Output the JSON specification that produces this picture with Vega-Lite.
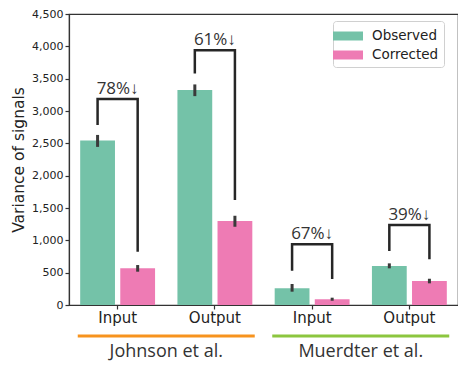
{
  "$schema": "https://vega.github.io/schema/vega-lite/v6.json",
  "width": 389,
  "height": 291,
  "autosize": {"type": "none"},
  "padding": {"left": 69, "top": 14, "right": 0, "bottom": 62},
  "background": "white",
  "config": {
    "view": {"stroke": "#333", "strokeWidth": 1.2},
    "axisX": {"labelFont": "DejaVu Sans", "labelFontSize": 15, "labelColor": "#222", "tickColor": "#333", "domainColor": "#333", "tickSize": 4, "labelPadding": 1, "labelAngle": 0, "grid": false, "domainWidth": 1.2, "tickWidth": 1.2},
    "axisY": {"labelFont": "DejaVu Sans", "labelFontSize": 11, "labelColor": "#222", "tickColor": "#333", "domainColor": "#333", "tickSize": 4, "labelPadding": 2, "grid": false, "domainWidth": 1.2, "tickWidth": 1.2, "titleFont": "DejaVu Sans", "titleFontSize": 15.5, "titleFontWeight": "normal", "titleColor": "#222", "titlePadding": 5}
  },
  "datasets": {
    "bars": [
      {"cat": "J Input", "series": "Observed", "value": 2545, "lo": 2445, "hi": 2630},
      {"cat": "J Input", "series": "Corrected", "value": 567, "lo": 515, "hi": 618},
      {"cat": "J Output", "series": "Observed", "value": 3323, "lo": 3230, "hi": 3411},
      {"cat": "J Output", "series": "Corrected", "value": 1298, "lo": 1210, "hi": 1380},
      {"cat": "M Input", "series": "Observed", "value": 258, "lo": 206, "hi": 325},
      {"cat": "M Input", "series": "Corrected", "value": 90, "lo": 66, "hi": 113},
      {"cat": "M Output", "series": "Observed", "value": 603, "lo": 567, "hi": 644},
      {"cat": "M Output", "series": "Corrected", "value": 371, "lo": 335, "hi": 406}
    ],
    "brackets": [
      {"bid": 1, "pt": 1, "cat": "J Input", "series": "Observed", "level": 2782},
      {"bid": 1, "pt": 2, "cat": "J Input", "series": "Observed", "level": 3184},
      {"bid": 1, "pt": 3, "cat": "J Input", "series": "Corrected", "level": 3184},
      {"bid": 1, "pt": 4, "cat": "J Input", "series": "Corrected", "level": 824},
      {"bid": 2, "pt": 1, "cat": "J Output", "series": "Observed", "level": 3581},
      {"bid": 2, "pt": 2, "cat": "J Output", "series": "Observed", "level": 3941},
      {"bid": 2, "pt": 3, "cat": "J Output", "series": "Corrected", "level": 3941},
      {"bid": 2, "pt": 4, "cat": "J Output", "series": "Corrected", "level": 1623},
      {"bid": 3, "pt": 1, "cat": "M Input", "series": "Observed", "level": 530},
      {"bid": 3, "pt": 2, "cat": "M Input", "series": "Observed", "level": 938},
      {"bid": 3, "pt": 3, "cat": "M Input", "series": "Corrected", "level": 938},
      {"bid": 3, "pt": 4, "cat": "M Input", "series": "Corrected", "level": 402},
      {"bid": 4, "pt": 1, "cat": "M Output", "series": "Observed", "level": 834},
      {"bid": 4, "pt": 2, "cat": "M Output", "series": "Observed", "level": 1236},
      {"bid": 4, "pt": 3, "cat": "M Output", "series": "Corrected", "level": 1236},
      {"bid": 4, "pt": 4, "cat": "M Output", "series": "Corrected", "level": 706}
    ],
    "labels": [
      {"cat": "J Input", "top": 3184, "label": "78%↓"},
      {"cat": "J Output", "top": 3941, "label": "61%↓"},
      {"cat": "M Input", "top": 938, "label": "67%↓"},
      {"cat": "M Output", "top": 1236, "label": "39%↓"}
    ],
    "groups": [
      {"group": "Johnson et al."},
      {"group": "Muerdter et al."}
    ]
  },
  "layer": [
    {
      "layer": [
        {
          "data": {"name": "bars"},
          "mark": {"type": "bar"},
          "encoding": {
            "x": {"field": "cat", "type": "nominal", "sort": null, "scale": {"domain": ["J Input", "J Output", "M Input", "M Output"], "paddingInner": 0, "paddingOuter": 0}, "axis": {"labelExpr": "slice(datum.label, 2)", "title": null}},
            "xOffset": {"field": "series", "type": "nominal", "sort": null, "scale": {"domain": ["Observed", "Corrected"], "paddingInner": 0.132, "paddingOuter": 0.279}},
            "y": {"field": "value", "type": "quantitative", "scale": {"domain": [0, 4500], "nice": false}, "title": "Variance of signals", "axis": {"format": ",.0f", "values": [0, 500, 1000, 1500, 2000, 2500, 3000, 3500, 4000, 4500]}},
            "color": {"field": "series", "type": "nominal", "sort": null, "scale": {"domain": ["Observed", "Corrected"], "range": ["#74c2a8", "#ee7bb4"]},
              "legend": {"title": null, "orient": "none", "legendX": 264, "legendY": 7, "fillColor": "white", "strokeColor": "#d0d0d0", "cornerRadius": 3, "padding": 5, "labelFont": "DejaVu Sans", "labelFontSize": 13.5, "labelColor": "#222", "symbolType": "M-1.5,-0.45H1.5V0.45H-1.5Z", "symbolSize": 400, "symbolStrokeWidth": 0, "symbolOpacity": 1, "labelOffset": 14}}
          }
        },
        {
          "data": {"name": "bars"},
          "mark": {"type": "rule", "color": "#3a3a3a", "strokeWidth": 3},
          "encoding": {
            "x": {"field": "cat", "type": "nominal", "sort": null, "title": null},
            "xOffset": {"field": "series", "type": "nominal", "sort": null},
            "y": {"field": "lo", "type": "quantitative", "scale": {"domain": [0, 4500], "nice": false}, "title": "Variance of signals", "axis": {"format": ",.0f", "values": [0, 500, 1000, 1500, 2000, 2500, 3000, 3500, 4000, 4500]}},
            "y2": {"field": "hi"}
          }
        },
        {
          "data": {"name": "brackets"},
          "mark": {"type": "line", "color": "#262626", "strokeWidth": 2.5, "strokeJoin": "miter", "strokeCap": "butt"},
          "encoding": {
            "x": {"field": "cat", "type": "nominal", "sort": null, "title": null},
            "xOffset": {"field": "series", "type": "nominal", "sort": null},
            "y": {"field": "level", "type": "quantitative", "scale": {"domain": [0, 4500], "nice": false}, "title": "Variance of signals", "axis": {"format": ",.0f", "values": [0, 500, 1000, 1500, 2000, 2500, 3000, 3500, 4000, 4500]}},
            "detail": {"field": "bid", "type": "nominal"},
            "order": {"field": "pt", "type": "quantitative"}
          }
        },
        {
          "data": {"name": "labels"},
          "mark": {"type": "text", "font": "Open Sans", "fontSize": 17, "color": "#333", "baseline": "alphabetic", "align": "center", "dy": -5},
          "encoding": {
            "x": {"field": "cat", "type": "nominal", "sort": null, "title": null},
            "y": {"field": "top", "type": "quantitative", "scale": {"domain": [0, 4500], "nice": false}, "title": "Variance of signals", "axis": {"format": ",.0f", "values": [0, 500, 1000, 1500, 2000, 2500, 3000, 3500, 4000, 4500]}},
            "text": {"field": "label"}
          }
        }
      ]
    },
    {
      "data": {"name": "groups"},
      "layer": [
        {
          "mark": {"type": "bar", "width": {"band": 0.91}},
          "encoding": {
            "x": {"field": "group", "type": "nominal", "sort": null, "scale": {"paddingInner": 0, "paddingOuter": 0}, "axis": null},
            "y": {"datum": -456, "type": "quantitative", "scale": {"domain": [0, 4500], "nice": false}, "title": "Variance of signals", "axis": {"format": ",.0f", "values": [0, 500, 1000, 1500, 2000, 2500, 3000, 3500, 4000, 4500]}},
            "y2": {"datum": -502},
            "color": {"field": "group", "type": "nominal", "sort": null, "scale": {"domain": ["Johnson et al.", "Muerdter et al."], "range": ["#f7931e", "#8cc63f"]}, "legend": null}
          }
        },
        {
          "mark": {"type": "text", "font": "Open Sans", "fontSize": 18, "color": "#333", "baseline": "middle", "align": "center"},
          "encoding": {
            "x": {"field": "group", "type": "nominal", "sort": null, "axis": null},
            "y": {"datum": -722, "type": "quantitative", "scale": {"domain": [0, 4500], "nice": false}, "title": "Variance of signals", "axis": {"format": ",.0f", "values": [0, 500, 1000, 1500, 2000, 2500, 3000, 3500, 4000, 4500]}},
            "text": {"field": "group"}
          }
        }
      ]
    }
  ],
  "resolve": {"scale": {"x": "independent", "color": "independent"}}
}
